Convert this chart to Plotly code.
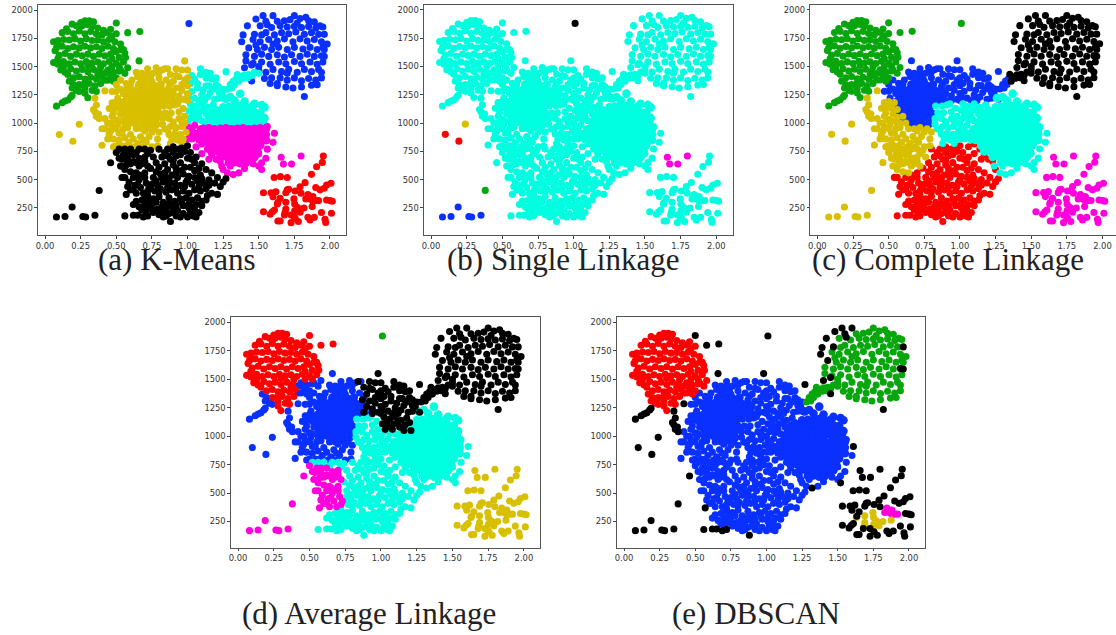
import plotly.graph_objects as go

# Point groups: (x, y)
LE_MAIN = [(.25,1890),(.28,1905),(.31,1905),(.34,1895),(.15,1835),(.19,1875),(.22,1860),(.26,1860),(.30,1870),(.33,1855),(.37,1840),(.41,1820),
 (.12,1800),(.16,1810),(.20,1790),(.24,1815),(.28,1790),(.32,1810),(.36,1790),(.40,1780),(.44,1800),(.47,1770),
 (.06,1720),(.09,1730),(.13,1740),(.17,1735),(.21,1745),(.25,1725),(.29,1745),(.33,1730),(.37,1735),(.41,1720),(.45,1740),(.49,1720),
 (.08,1665),(.12,1680),(.16,1660),(.20,1675),(.24,1665),(.28,1680),(.32,1665),(.36,1675),(.40,1660),(.44,1680),(.48,1660),
 (.10,1600),(.14,1615),(.18,1590),(.22,1610),(.26,1595),(.30,1610),(.34,1590),(.38,1610),(.42,1595),(.46,1610),(.50,1630),(.55,1650),(.56,1620),(.565,1580),
 (.06,1535),(.09,1520),(.13,1545),(.17,1525),(.21,1540),(.25,1525),(.29,1545),(.33,1530),(.37,1540),(.41,1525),(.45,1545),(.50,1530),(.55,1540),
 (.11,1470),(.14,1450),(.18,1480),(.22,1460),(.26,1475),(.30,1455),(.34,1475),(.38,1455),
 (.16,1430),(.20,1400),(.24,1410),(.28,1390),(.32,1405),(.36,1390),(.40,1410),
 (.27,1340),(.31,1350),(.35,1330),(.39,1350),(.33,1290),(.28,1265),(.30,1225),
 (.24,1340),(.28,1310),(.36,1280),(.13,1500),(.37,1430),(.30,1510),(.39,1495),(.47,1500),(.52,1500),(.52,1580),(.47,1570),
 (.07,1640),(.09,1570),(.09,1690),(.46,1830),(.50,1790),(.53,1700),(.53,1650)]
LE_BL = [(.17,1370),(.20,1340),(.23,1320),(.19,1310),(.22,1290),(.24,1280)]
LE_BR = [(.44,1470),(.48,1450),(.52,1460),(.56,1440),(.50,1400),(.46,1420),(.42,1440),(.44,1380),(.48,1370),(.53,1470),(.58,1490),(.42,1380)]
LE_OUT = [(.50,1885),(.58,1800),(.665,1810)]
TAIL = [(.08,1150),(.12,1180),(.14,1195),(.16,1205),(.18,1230),(.19,1245)]
NECK = [(.35,1220),(.36,1160),(.35,1100),(.36,1060),(.38,1040),(.34,1120),(.375,1080),(.42,1285)]
P_A = [(.66,1550)]
P_B = [(.98,1550)]
P_C = [(1.27,1455)]
P_TOP = [(1.01,1880)]

RE_MAIN = [(1.63,1900),(1.68,1905),(1.72,1915),(1.75,1950),(1.77,1885),(1.79,1925),(1.83,1935),(1.85,1905),(1.89,1895),(1.93,1860),
 (1.51,1860),(1.59,1845),(1.65,1860),(1.70,1850),(1.75,1855),(1.80,1845),(1.85,1855),(1.90,1840),(1.95,1850),
 (1.55,1800),(1.61,1780),(1.66,1800),(1.71,1790),(1.76,1805),(1.82,1785),(1.87,1800),(1.92,1785),
 (1.46,1740),(1.51,1720),(1.57,1740),(1.63,1725),(1.68,1745),(1.74,1720),(1.79,1745),(1.84,1725),(1.89,1740),(1.94,1720),
 (1.49,1650),(1.54,1670),(1.59,1650),(1.64,1670),(1.70,1650),(1.75,1670),(1.81,1655),(1.86,1670),(1.91,1650),(1.95,1670),
 (1.41,1605),(1.47,1590),(1.52,1610),(1.57,1590),(1.63,1605),(1.68,1585),(1.73,1605),(1.79,1590),(1.84,1610),(1.89,1590),
 (1.46,1530),(1.52,1540),(1.58,1520),(1.64,1540),(1.69,1525),(1.75,1545),(1.80,1525),(1.86,1540),(1.91,1520),(1.95,1540),
 (1.50,1470),(1.55,1450),(1.60,1475),(1.66,1455),(1.71,1475),(1.77,1450),(1.82,1475),(1.87,1455),(1.92,1475),
 (1.54,1395),(1.59,1400),(1.63,1350),(1.65,1400),(1.70,1380),(1.75,1400),(1.80,1375),(1.85,1395),(1.90,1380),(1.94,1400),
 (1.74,1310),(1.80,1320),(1.87,1335),(1.63,1330),(1.91,1340),
 (1.60,1700),(1.48,1690),(1.70,1440),(1.96,1650),(1.52,1780),(1.41,1550),(1.50,1500),(1.98,1700),(1.94,1450),(1.58,1350),(1.69,1320)]
RE_E = [(1.42,1860),(1.48,1920),(1.53,1950),(1.55,1900),(1.60,1950),(1.56,1870),(1.39,1780),(1.38,1720),(1.43,1665),(1.47,1785),
 (1.40,1490),(1.45,1515),(1.45,1373),(1.96,1785),(1.96,1590),(1.94,1595),(1.82,1235)]
BR1 = [(1.30,1340),(1.32,1370),(1.34,1390),(1.28,1300),(1.31,1310),(1.33,1340)]
BR2 = [(1.37,1410),(1.40,1425),(1.43,1430),(1.47,1450),(1.50,1440),(1.36,1370),(1.39,1395),(1.35,1430),(1.42,1400),(1.45,1420)]

DL = [(.66,1340),(.71,1345),(.76,1335),(.81,1340),(.60,1290),(.645,1295),(.69,1285),(.735,1290),(.78,1295),(.825,1285),(.87,1290),
 (.575,1240),(.62,1245),(.665,1235),(.71,1240),(.755,1245),(.80,1235),(.845,1240),(.885,1245),
 (.56,1190),(.605,1195),(.65,1185),(.695,1190),(.74,1195),(.785,1185),(.83,1190),(.875,1195),(.91,1190),
 (.56,1140),(.605,1145),(.65,1135),(.695,1140),(.74,1145),(.785,1135),
 (.575,1090),(.62,1095),(.665,1085),(.71,1090),(.755,1095),(.80,1085),
 (.60,1040),(.645,1045),(.69,1035),(.735,1040),(.78,1045),(.645,990),(.69,995),(.735,985),(.78,990)]
DL_R = [(.83,1150),(.875,1150),(.91,1160),(.845,1090),(.885,1090),(.825,1040),(.87,1040),(.825,990)]

C1 = [(.50,1340),(.53,1300),(.55,1260),(.47,1280),(.51,1220),(.57,1350),(.61,1380),(.65,1410),(.68,1440),(.72,1480),(.76,1440),(.70,1400),(.74,1400),(.80,1400),(.78,1490),(.82,1470),(.86,1480),
 (.53,1380),(.57,1300),(.60,1340),(.64,1450),(.68,1380),(.72,1440),(.80,1450),(.75,1370),(.85,1380),(.88,1350),(.50,1280)]
C2 = [(.45,1130),(.48,1140),(.52,1130),(.50,1190),(.54,1180),(.47,1060),(.50,1030),(.44,1000),(.53,1080),(.56,1050),(.58,1000),(.60,1060),
 (.42,1040),(.46,1000),(.52,1020),(.56,1120),(.48,1090),(.52,1160),(.56,1000),(.47,1180)]
C3 = [(.42,950),(.45,900),(.48,860),(.50,800),(.44,860),(.47,960),(.51,990),(.55,950),(.52,910),(.56,870),(.60,900),(.64,950),(.59,830),(.63,790),(.67,880),(.70,930),(.73,880),(.77,950),(.71,830),(.75,790),(.79,860),(.48,790),(.54,800),(.68,790),(.40,950),(.40,805),
 (.46,930),(.50,950),(.54,910),(.58,960),(.62,860),(.65,820),(.69,850),(.72,960),(.75,920),(.80,920),(.57,800),(.52,850),(.62,1000),(.68,950),(.79,800)]
C4 = [(.84,1480),(.88,1430),(.92,1480),(.96,1470),(1.00,1470),(.90,1370),(.94,1410),(.98,1380),(.92,1310),(.96,1290),(1.00,1330),(.94,1240),(.98,1210),(1.00,1260),
 (.90,1260),(.88,1210),(.96,1340),(.92,1420),(.94,1200),(1.00,1200),(1.00,1400),(.87,1320)]
C5 = [(.84,950),(.88,970),(.92,960),(.96,970),(.87,900),(.91,910),(.95,900),(.99,920),(.89,860),(.93,850),(.96,820),
 (.90,1010),(.94,1040),(.98,1060),(.94,1100),(.97,1130),(.98,1000),(.93,1170),(.96,1010),(.86,940),(.92,880),(.97,860),(.88,820)]
C6 = [(1.02,1350),(1.05,1390),(1.09,1430),(1.09,1480),(1.13,1400),(1.17,1390),(1.20,1340),(1.13,1330),(1.07,1310),(1.03,1280),(1.10,1250),(1.16,1270),(1.22,1270),(1.05,1220),(1.12,1200),(1.19,1210),(1.25,1300),(1.22,1220),(1.27,1210),
 (1.03,1420),(1.07,1350),(1.11,1290),(1.15,1330),(1.18,1300),(1.22,1320),(1.14,1230),(1.08,1200),(1.24,1260),(1.01,1230),(1.16,1440),(1.13,1450),(1.20,1400)]
C7A = [(1.02,1170),(1.06,1150),(1.10,1170),(1.14,1140),(1.18,1160),(1.01,1110),(1.05,1090),(1.09,1110),(1.13,1080),(1.17,1100),(1.21,1050),
 (1.04,1130),(1.08,1060),(1.12,1130),(1.16,1050),(1.20,1120),(1.03,1060)]
C7C = [(1.02,1040),(1.06,1030),(1.10,1020),(1.00,1000)]
C8A = [(1.01,960),(1.05,980),(1.09,950),(1.02,900),(1.06,910),(1.10,890),(1.03,860),(1.08,850),(1.03,940),(1.07,870),(1.12,920),(1.00,860)]
C8B = [(1.06,790),(1.10,815),(1.14,770),(1.10,730),(1.17,720),(1.20,680),(1.15,680),(1.12,850),(1.18,800),(1.23,660),(1.20,760),(1.25,590)]
C8C = [(1.00,800),(.96,780),(1.02,740),(1.06,700),(1.00,690),(1.05,650),(1.10,640),(.95,720),
 (.78,650),(.82,700),(.86,770),(.90,790),(.86,710),(.90,740),(.94,770),(.80,610),(.84,640),(.90,670),(.74,600),(.78,570),(.95,650),(.98,610),(.92,600),(.86,590),
 (.80,770),(.84,740),(.88,680),(.92,710),(.98,750),(1.03,680),(.84,560),(.90,630),(1.02,610),(1.08,600),(.96,580)]
C10A = [(.52,690),(.55,720),(.58,680),(.62,720),(.66,690),(.60,640),(.64,650),(.68,640),(.70,700),(.53,620),(.56,590),(.60,570),(.64,560),
 (.50,740),(.54,680),(.58,720),(.62,660),(.66,620),(.57,630),(.70,660),(.72,620)]
C10B = [(.74,760),(.70,770),(.66,770),(.76,700),(.72,730),(.60,770),(.56,770),(.52,770),(.64,740)]
C11 = [(.56,520),(.59,480),(.62,520),(.66,500),(.70,520),(.63,450),(.67,430),(.71,470),(.60,410),(.64,380),(.69,380),(.54,520),(.73,430),
 (.58,440),(.62,410),(.66,540),(.72,400),(.70,560),(.65,460)]
C12 = [(.76,520),(.81,550),(.85,520),(.89,540),(.93,520),(.97,550),(1.01,530),(1.05,580),(1.09,540),(1.13,590),(1.17,560),(1.21,520),(1.25,480),(1.23,440),(1.19,470),(1.15,500),(1.11,470),(1.07,490),(1.03,460),(.99,480),(.95,450),(.91,470),(.87,460),(.83,480),(.79,450),(.75,460),(.77,400),(.81,420),(.85,390),(.89,410),(.93,380),(.97,400),(1.01,380),(1.05,410),(1.09,400),(1.13,420),(1.17,380),(1.21,370),
 (.78,490),(.82,520),(.87,500),(.92,560),(1.00,500),(1.05,520),(1.10,510),(.86,430),(.92,430),(.98,440),(1.08,440),(1.15,450),(1.27,510),(.74,420),(.80,390)]
C13 = [(.62,280),(.68,320),(.66,260),(.72,260),(.70,340),(.76,330),(.80,350),(.75,280),(.79,240),(.83,300),(.87,340),(.91,310),(.95,330),(.99,340),(1.03,320),(1.07,340),(1.13,320),(1.10,270),(1.06,280),(.85,250),(.89,260),(.93,230),(.97,270),(1.01,250),(1.05,220),(1.08,210),(1.04,180),(1.00,170),(.97,200),(.92,180),(.87,200),(.83,170),(.80,190),(.76,210),(.71,210),
 (.64,310),(.70,280),(.73,310),(.78,300),(.82,260),(.87,290),(.92,270),(.96,300),(1.01,290),(1.05,260),(1.10,310),(1.14,360),(.68,230),(.75,240),(.83,220),(.90,210),(.95,170),(1.02,210),(1.06,170),(.72,360),(.85,180)]
BOT = [(.56,180),(.62,185),(.65,185),(.69,170),(.72,180),(.88,130)]
P_D = [(.57,370)]
P_E = [(.46,650)]

DRU = [(1.26,1220),(1.30,1230),(1.37,1260),(1.33,1200),(1.40,1190),(1.47,1170),(1.52,1160),(1.54,1140),
 (1.25,1140),(1.29,1145),(1.33,1140),(1.37,1150),(1.41,1140),(1.45,1145),
 (1.19,1090),(1.23,1095),(1.27,1085),(1.31,1090),(1.35,1095),(1.39,1085),(1.43,1090),(1.47,1095),(1.51,1090),
 (1.15,1040),(1.19,1045),(1.23,1035),(1.27,1040),(1.31,1045),(1.35,1035),(1.39,1040),(1.43,1045),(1.47,1035),(1.51,1040),(1.54,1045),
 (1.13,1000),(1.17,1005),(1.21,1000),(1.25,1005),(1.29,1005),(1.33,1010),(1.37,1005),(1.41,1010),(1.45,1010),(1.49,1015),(1.53,1015)]
DRL = [(1.11,950),(1.15,955),(1.19,945),(1.23,950),(1.27,955),(1.31,945),(1.35,950),(1.39,955),(1.43,945),(1.47,950),(1.51,955),(1.55,950),
 (1.11,900),(1.15,905),(1.19,895),(1.23,900),(1.27,905),(1.31,895),(1.35,900),(1.39,905),(1.43,895),(1.47,900),(1.51,905),(1.55,900),
 (1.11,850),(1.15,855),(1.19,845),(1.23,850),(1.27,855),(1.31,845),(1.35,850),(1.39,855),(1.43,845),(1.47,850),(1.51,855),(1.55,850),
 (1.15,800),(1.19,795),(1.23,800),(1.27,805),(1.31,795),(1.35,800),(1.39,805),(1.43,795),(1.47,800),(1.51,805),
 (1.17,750),(1.21,755),(1.25,745),(1.29,750),(1.33,755),(1.37,745),(1.41,750),(1.45,755),(1.49,750),
 (1.23,700),(1.27,705),(1.31,695),(1.35,700),(1.39,705),(1.43,695),(1.47,700),(1.29,650),(1.33,655),(1.37,645),(1.41,650)]
RIM = [(1.56,970),(1.60,830),(1.52,650),(1.55,690),(1.50,620),(1.46,640),(1.40,600),(1.36,560),(1.28,560),(1.30,620),(1.24,620),(1.44,700),(1.50,730),(1.56,770)]
RIM_E = [(1.61,910),(1.52,590),(1.32,545)]

F_MAIN = [(1.953,709),(1.946,653),(1.906,615),(1.87,547),(1.825,474),(1.79,438),(1.90,430),(1.976,453),(2.007,468),(1.96,424),(1.93,410),
 (1.608,520),(1.652,527),(1.70,520),(1.533,385),(1.587,385),(1.62,394),(1.60,350),(1.70,410),(1.71,415),(1.69,385),(1.755,400),(1.797,380),
 (1.976,320),(2.0,315),(2.016,310),(1.65,335),(1.634,297),(1.533,217),(1.61,232),(1.596,217),(1.58,194),(1.68,188),(1.727,188),(1.755,160),
 (1.94,210),(2.01,203),(1.845,167),(1.86,144),(1.89,167),(1.965,150),(1.97,121),(1.727,120),(1.778,130),(1.634,135),(1.65,135)]
F_EY = [(1.63,285),(1.69,240),(1.685,212),(1.69,300),(1.747,330),(1.752,285),(1.77,256),(1.794,241),(1.817,250),(1.752,226),(1.79,212),(1.747,174),(1.875,262)]
F_EM = [(1.83,330),(1.845,368),(1.86,330),(1.88,309),(1.88,350),(1.90,315),(1.92,315)]
F_BM = [(1.657,698),(1.673,638),(1.73,638),(1.797,709)]

LOW = [(.08,170),(.14,175),(.19,258),(.265,175),(.285,170),(.35,185)]
P_G = [(.38,405)]
P_R = [(.10,900),(.195,840)]
P_Y = [(.24,990)]

# cluster letter of each group in panels a, b, c, d, e
ASSIGN = [
 (LE_MAIN,"gcgrr"),(LE_BL,"gcgbr"),(LE_BR,"gcgbr"),(LE_OUT,"gcgrk"),(TAIL,"gcgbk"),(NECK,"ycybk"),
 (P_A,"gcbbk"),(P_B,"ycbkk"),(P_C,"ccbkk"),(P_TOP,"bkggk"),(RE_MAIN,"bckkg"),(RE_E,"bckkk"),(BR1,"ccbkg"),(BR2,"cckkg"),
 (DL,"ycbbb"),(DL_R,"ycccb"),(C1,"ycbbb"),(C2,"ycybb"),(C3,"ycybb"),(C4,"ycbkb"),(C5,"ycccb"),(C6,"ccbkb"),(C7A,"ccckb"),(C7C,"ccccb"),
 (C8A,"mcccb"),(C8B,"mcrcb"),(C8C,"kcrcb"),(C10A,"kcymb"),(C10B,"kcycb"),(C11,"kcrmb"),(C12,"kcrcb"),(C13,"kcrcb"),(BOT,"kcrck"),
 (P_D,"kcrmk"),(P_E,"kcymk"),(DRU,"ccccb"),(DRL,"mcccb"),(RIM,"mcccb"),(RIM_E,"mccck"),
 (F_MAIN,"rcmyk"),(F_EY,"rcmyy"),(F_EM,"rcmym"),(F_BM,"mmmyk"),
 (LOW,"kbymk"),(P_G,"kgymk"),(P_R,"yrybk"),(P_Y,"yyybk"),
]
DENSE = [DL, DRU, DRL]  # the two solid blobs of the picture

COLORS = {"b":"#0a30ff","g":"#06a60c","r":"#ff0000","c":"#00ffe1","m":"#ff00dd","y":"#d8bf00","k":"#000000"}
TITLES = ["(a) K-Means","(b) Single Linkage","(c) Complete Linkage","(d) Average Linkage","(e) DBSCAN"]
X_TICKS = [0,0.25,0.5,0.75,1,1.25,1.5,1.75,2]
X_LABELS = ["0.00","0.25","0.50","0.75","1.00","1.25","1.50","1.75","2.00"]
Y_TICKS = [250,500,750,1000,1250,1500,1750,2000]

W, H = 1116, 635
# panel frames in pixels: left, right, top, bottom
FRAMES = [(36,345,4.7,235),(422.7,732,4.5,235),(809.7,1116,4.5,235),(229.3,539.3,317.3,547.7),(616,925,317.3,547.7)]
XR = [(-0.05,2.115),(-0.05,2.115),(-0.05,2.095),(-0.05,2.115),(-0.05,2.115)]
YR = [(11,2047),(11,2047),(11,2047),(20,2045),(20,2045)]
TITLE_POS = [(175,260),(562,260),(948,260),(368,613),(755,613)]

fig = go.Figure()
annotations = []
for i in range(5):
    sfx = "" if i == 0 else str(i+1)
    for letter in "bgrcmyk":
        groups = [grp for grp, lab in ASSIGN if lab[i] == letter]
        pts = [p for grp in groups for p in grp]
        if not pts:
            continue
        sizes = [8.6 if any(grp is d for d in DENSE) else 7.1 for grp in groups for _ in grp]
        fig.add_trace(go.Scatter(x=[p[0] for p in pts], y=[p[1] for p in pts], mode="markers",
            marker=dict(size=sizes, color=COLORS[letter], opacity=1, line=dict(width=0)),
            xaxis="x"+sfx, yaxis="y"+sfx, showlegend=False, hoverinfo="skip"))
    l, r, t, b = FRAMES[i]
    fig.update_layout({
        "xaxis"+sfx: dict(domain=[l/W, r/W], range=list(XR[i]), anchor="y"+sfx, tickvals=X_TICKS, ticktext=X_LABELS,
            ticks="outside", ticklen=2.5, tickwidth=0.8, tickcolor="#444", showgrid=False, zeroline=False,
            showline=True, linecolor="#555", linewidth=1, mirror=True,
            tickfont=dict(family="DejaVu Sans", size=8.4, color="#333")),
        "yaxis"+sfx: dict(domain=[1-b/H, 1-t/H], range=list(YR[i]), anchor="x"+sfx, tickvals=Y_TICKS,
            ticks="outside", ticklen=2.5, tickwidth=0.8, tickcolor="#444", showgrid=False, zeroline=False,
            showline=True, linecolor="#555", linewidth=1, mirror=(i != 2),
            tickfont=dict(family="DejaVu Sans", size=8.4, color="#333")),
    })
    annotations.append(dict(text=TITLES[i], x=TITLE_POS[i][0]/W, y=1-TITLE_POS[i][1]/H, xref="paper", yref="paper",
        xanchor="center", yanchor="middle", showarrow=False, font=dict(family="Liberation Serif", size=31, color="#222")))

fig.update_layout(width=W, height=H, margin=dict(l=0,r=0,t=0,b=0), plot_bgcolor="white", paper_bgcolor="white",
    annotations=annotations, showlegend=False)
fig.write_html("out.html", config={"displayModeBar": False}, post_script="document.body.style.margin='0';")
